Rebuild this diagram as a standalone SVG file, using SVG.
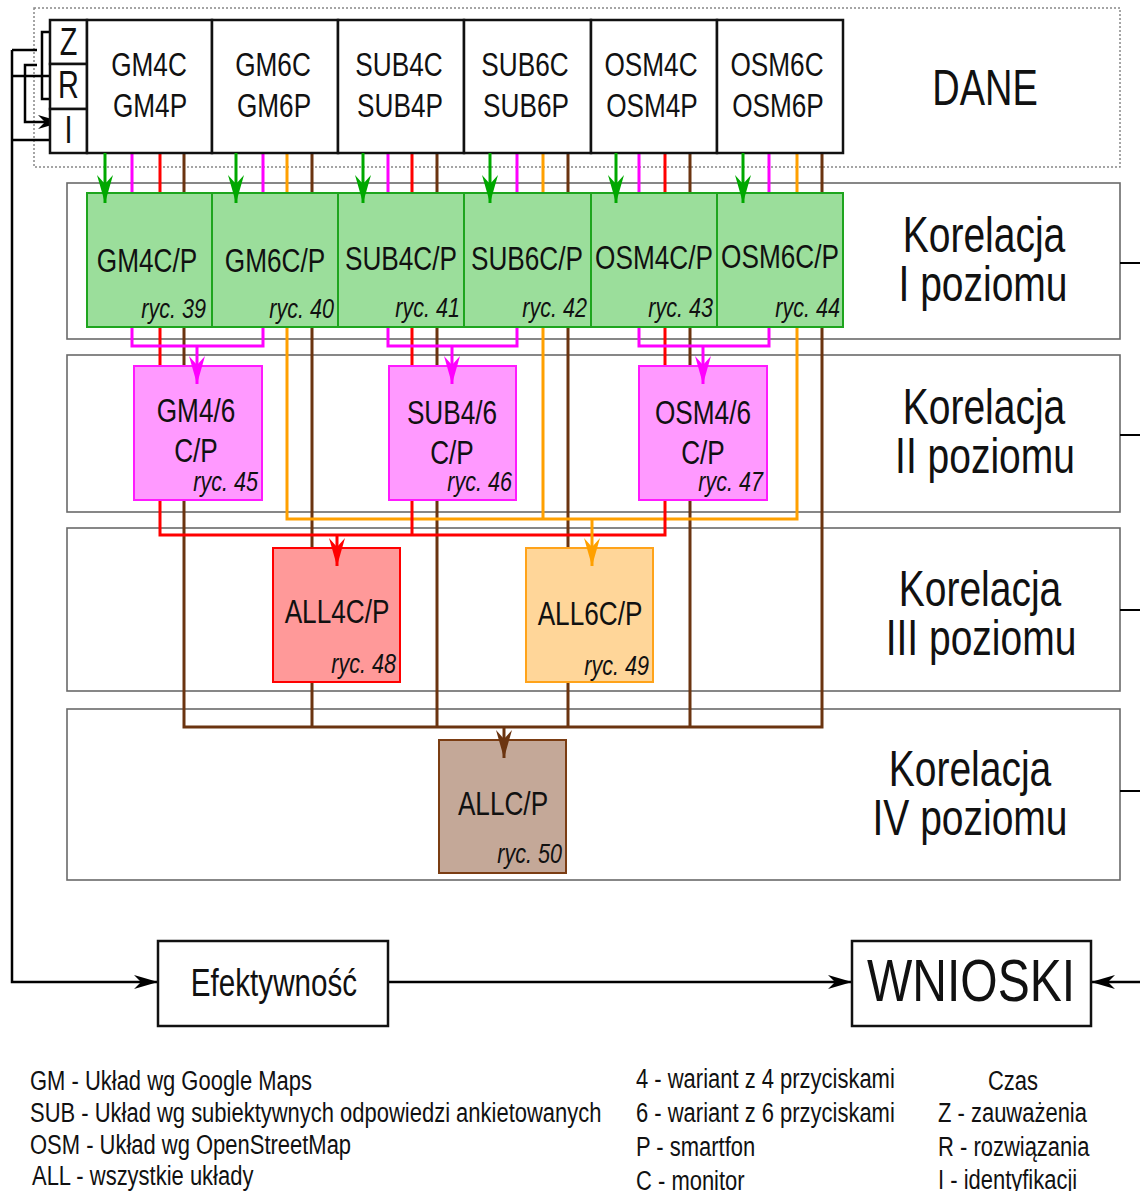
<svg xmlns="http://www.w3.org/2000/svg" width="1140" height="1191" viewBox="0 0 1140 1191">
<defs>
<style>
text{font-family:"Liberation Sans",Arial,sans-serif;fill:#111}
.n{font-size:34px;text-anchor:middle}
.r{font-size:28px;font-style:italic;text-anchor:end}
.l{font-size:50px;text-anchor:middle}
.g{font-size:28px}
.lvl{fill:#fff;stroke:#6a6a6a;stroke-width:1.6}
.cell{fill:#fff;stroke:#111;stroke-width:2.5}
.gr{fill:#9bde9b;stroke:#1ea51e;stroke-width:2}
.mg{fill:#ff99ff;stroke:#ff1aff;stroke-width:2}
.rd{fill:#ff9999;stroke:#ff0000;stroke-width:2}
.or{fill:#ffd699;stroke:#ffa31a;stroke-width:2}
.br{fill:#c4a898;stroke:#7b3d13;stroke-width:2}
.c{fill:none;stroke-width:3}
.cg{stroke:#00a800}.cm{stroke:#ff00ff}.cr{stroke:#ff0000}.co{stroke:#ffa000}.cb{stroke:#6b3410}
.k{fill:none;stroke:#000;stroke-width:2.5}
</style>
<marker id="ag" markerUnits="userSpaceOnUse" markerWidth="30" markerHeight="18" refX="28" refY="9" orient="auto" overflow="visible"><path d="M0,1 L28,9 L0,17 L9,9 z" fill="#00a800"/></marker>
<marker id="am" markerUnits="userSpaceOnUse" markerWidth="30" markerHeight="18" refX="28" refY="9" orient="auto" overflow="visible"><path d="M0,1 L28,9 L0,17 L9,9 z" fill="#ff00ff"/></marker>
<marker id="ar" markerUnits="userSpaceOnUse" markerWidth="30" markerHeight="18" refX="28" refY="9" orient="auto" overflow="visible"><path d="M0,1 L28,9 L0,17 L9,9 z" fill="#ff0000"/></marker>
<marker id="ao" markerUnits="userSpaceOnUse" markerWidth="30" markerHeight="18" refX="28" refY="9" orient="auto" overflow="visible"><path d="M0,1 L28,9 L0,17 L9,9 z" fill="#ffa000"/></marker>
<marker id="ab" markerUnits="userSpaceOnUse" markerWidth="30" markerHeight="18" refX="28" refY="9" orient="auto" overflow="visible"><path d="M0,1 L28,9 L0,17 L9,9 z" fill="#6b3410"/></marker>
<marker id="ak" markerUnits="userSpaceOnUse" markerWidth="26" markerHeight="16" refX="24" refY="8" orient="auto" overflow="visible"><path d="M0,1 L24,8 L0,15 L7,8 z" fill="#000"/></marker>
</defs>

<g id="frames">
<rect x="34" y="8" width="1086" height="159" fill="none" stroke="#888" stroke-width="1.5" stroke-dasharray="2 2"/>
<rect class="lvl" x="67" y="183" width="1053" height="156"/>
<rect class="lvl" x="67" y="355" width="1053" height="157"/>
<rect class="lvl" x="67" y="528" width="1053" height="163"/>
<rect class="lvl" x="67" y="709" width="1053" height="171"/>
</g>

<g id="connectors">
<g class="c cb">
<path d="M184 153V727H822V153"/>
<path d="M312 153V727"/><path d="M437 153V727"/><path d="M568 153V727"/><path d="M690 153V727"/>
</g>
<g class="c co">
<path d="M287 153V519H797V153"/>
<path d="M543 153V519"/>
</g>
<g class="c cr">
<path d="M160 153V535H665V153"/>
<path d="M412 153V535"/>
</g>
<g class="c cm">
<path d="M132 153V346H263V153"/>
<path d="M388 153V346H517V153"/>
<path d="M639 153V346H769V153"/>
</g>
<g class="k">
<path d="M50 32H42V99H50"/>
<path d="M12 50H37"/>
<path d="M12 76H50"/>
<path d="M12 140H50"/>
<path d="M37 65H25V122H62" marker-end="url(#ak)"/>
<path d="M12 50V982H158" marker-end="url(#ak)"/>
<path d="M388 982H852" marker-end="url(#ak)"/>
<path d="M1140 982H1091" marker-end="url(#ak)"/>
<path d="M1120 263H1140M1120 435H1140M1120 610H1140M1120 791H1140" stroke-width="2"/>
</g>
</g>

<g id="dane">
<rect class="cell" x="50" y="20" width="37" height="44"/>
<rect class="cell" x="50" y="64" width="37" height="45"/>
<rect class="cell" x="50" y="109" width="37" height="44"/>
<text transform="translate(68.5 55) scale(.76 1)" style="font-size:38px;text-anchor:middle">Z</text>
<text transform="translate(68.5 98) scale(.76 1)" style="font-size:38px;text-anchor:middle">R</text>
<text transform="translate(68.5 143) scale(.76 1)" style="font-size:38px;text-anchor:middle">I</text>
<text transform="translate(985 105) scale(.76 1)" class="l">DANE</text>
</g>
<g id="d-gm4"><rect class="cell" x="87" y="20" width="125" height="133"/><text class="n" transform="translate(149 76) scale(.77 1)">GM4C</text><text class="n" transform="translate(150 117) scale(.77 1)">GM4P</text></g>
<g id="d-gm6"><rect class="cell" x="212" y="20" width="126" height="133"/><text class="n" transform="translate(273 76) scale(.77 1)">GM6C</text><text class="n" transform="translate(274 117) scale(.77 1)">GM6P</text></g>
<g id="d-sub4"><rect class="cell" x="338" y="20" width="126" height="133"/><text class="n" transform="translate(399 76) scale(.77 1)">SUB4C</text><text class="n" transform="translate(400 117) scale(.77 1)">SUB4P</text></g>
<g id="d-sub6"><rect class="cell" x="464" y="20" width="127" height="133"/><text class="n" transform="translate(525 76) scale(.77 1)">SUB6C</text><text class="n" transform="translate(526 117) scale(.77 1)">SUB6P</text></g>
<g id="d-osm4"><rect class="cell" x="591" y="20" width="126" height="133"/><text class="n" transform="translate(651 76) scale(.77 1)">OSM4C</text><text class="n" transform="translate(652 117) scale(.77 1)">OSM4P</text></g>
<g id="d-osm6"><rect class="cell" x="717" y="20" width="126" height="133"/><text class="n" transform="translate(777 76) scale(.77 1)">OSM6C</text><text class="n" transform="translate(778 117) scale(.77 1)">OSM6P</text></g>

<g id="n39"><rect class="gr" x="87" y="193" width="125" height="134"/><text class="n" transform="translate(147 272) scale(.77 1)">GM4C/P</text><text class="r" transform="translate(206 318) scale(.77 1)">ryc. 39</text></g>
<g id="n40"><rect class="gr" x="212" y="193" width="126" height="134"/><text class="n" transform="translate(275 272) scale(.77 1)">GM6C/P</text><text class="r" transform="translate(334 318) scale(.77 1)">ryc. 40</text></g>
<g id="n41"><rect class="gr" x="338" y="193" width="126" height="134"/><text class="n" transform="translate(401 270) scale(.77 1)">SUB4C/P</text><text class="r" transform="translate(460 317) scale(.77 1)">ryc. 41</text></g>
<g id="n42"><rect class="gr" x="464" y="193" width="127" height="134"/><text class="n" transform="translate(527 270) scale(.77 1)">SUB6C/P</text><text class="r" transform="translate(587 317) scale(.77 1)">ryc. 42</text></g>
<g id="n43"><rect class="gr" x="591" y="193" width="126" height="134"/><text class="n" transform="translate(654 269) scale(.77 1)">OSM4C/P</text><text class="r" transform="translate(713 317) scale(.77 1)">ryc. 43</text></g>
<g id="n44"><rect class="gr" x="717" y="193" width="126" height="134"/><text class="n" transform="translate(780 268) scale(.77 1)">OSM6C/P</text><text class="r" transform="translate(840 317) scale(.77 1)">ryc. 44</text></g>

<g id="n45"><rect class="mg" x="134" y="366" width="128" height="134"/><text class="n" transform="translate(196 422) scale(.77 1)">GM4/6</text><text class="n" transform="translate(196 462) scale(.77 1)">C/P</text><text class="r" transform="translate(258 491) scale(.77 1)">ryc. 45</text></g>
<g id="n46"><rect class="mg" x="389" y="366" width="127" height="134"/><text class="n" transform="translate(452 424) scale(.77 1)">SUB4/6</text><text class="n" transform="translate(452 464) scale(.77 1)">C/P</text><text class="r" transform="translate(512 491) scale(.77 1)">ryc. 46</text></g>
<g id="n47"><rect class="mg" x="639" y="366" width="128" height="134"/><text class="n" transform="translate(703 424) scale(.77 1)">OSM4/6</text><text class="n" transform="translate(703 464) scale(.77 1)">C/P</text><text class="r" transform="translate(763 491) scale(.77 1)">ryc. 47</text></g>

<g id="n48"><rect class="rd" x="273" y="548" width="127" height="134"/><text class="n" transform="translate(337 623) scale(.77 1)">ALL4C/P</text><text class="r" transform="translate(396 673) scale(.77 1)">ryc. 48</text></g>
<g id="n49"><rect class="or" x="526" y="548" width="127" height="134"/><text class="n" transform="translate(590 625) scale(.77 1)">ALL6C/P</text><text class="r" transform="translate(649 675) scale(.77 1)">ryc. 49</text></g>
<g id="n50"><rect class="br" x="439" y="740" width="127" height="133"/><text class="n" transform="translate(503 815) scale(.77 1)">ALLC/P</text><text class="r" transform="translate(562 863) scale(.77 1)">ryc. 50</text></g>

<g id="connector-arrows">
<g class="c cg">
<path d="M105 153V203" marker-end="url(#ag)"/>
<path d="M236 153V203" marker-end="url(#ag)"/>
<path d="M363 153V203" marker-end="url(#ag)"/>
<path d="M490 153V203" marker-end="url(#ag)"/>
<path d="M616 153V203" marker-end="url(#ag)"/>
<path d="M743 153V203" marker-end="url(#ag)"/>
</g>
<path class="c cm" d="M197 346V384" marker-end="url(#am)"/>
<path class="c cm" d="M452 346V384" marker-end="url(#am)"/>
<path class="c cm" d="M703 346V384" marker-end="url(#am)"/>
<path class="c cr" d="M337 535V566" marker-end="url(#ar)"/>
<path class="c co" d="M592 519V566" marker-end="url(#ao)"/>
<path class="c cb" d="M504 727V758" marker-end="url(#ab)"/>
</g>

<g id="levels">
<text class="l" transform="translate(984 252) scale(.78 1)">Korelacja</text>
<text class="l" transform="translate(983 301) scale(.78 1)">I poziomu</text>
<text class="l" transform="translate(984 424) scale(.78 1)">Korelacja</text>
<text class="l" transform="translate(985 473) scale(.78 1)">II poziomu</text>
<text class="l" transform="translate(980 606) scale(.78 1)">Korelacja</text>
<text class="l" transform="translate(981 655) scale(.78 1)">III poziomu</text>
<text class="l" transform="translate(970 786) scale(.78 1)">Korelacja</text>
<text class="l" transform="translate(970 835) scale(.78 1)">IV poziomu</text>
</g>

<g id="efektywnosc"><rect class="cell" x="158" y="941" width="230" height="85" stroke-width="2"/><text transform="translate(274 996) scale(.76 1)" style="font-size:39px;text-anchor:middle">Efektywność</text></g>
<g id="wnioski"><rect class="cell" x="852" y="941" width="239" height="85" stroke-width="2"/><text transform="translate(971 1001) scale(.8 1)" style="font-size:60px;text-anchor:middle">WNIOSKI</text></g>

<g id="legend">
<text class="g" transform="translate(30 1090) scale(.785 1)">GM - Układ wg Google Maps</text>
<text class="g" transform="translate(30 1122) scale(.785 1)">SUB - Układ wg subiektywnych odpowiedzi ankietowanych</text>
<text class="g" transform="translate(30 1154) scale(.785 1)">OSM - Układ wg OpenStreetMap</text>
<text class="g" transform="translate(32 1185) scale(.785 1)">ALL - wszystkie układy</text>
<text class="g" transform="translate(636 1088) scale(.785 1)">4 - wariant z 4 przyciskami</text>
<text class="g" transform="translate(636 1122) scale(.785 1)">6 - wariant z 6 przyciskami</text>
<text class="g" transform="translate(636 1156) scale(.785 1)">P - smartfon</text>
<text class="g" transform="translate(636 1190) scale(.785 1)">C - monitor</text>
<text class="g" transform="translate(988 1090) scale(.785 1)">Czas</text>
<text class="g" transform="translate(938 1122) scale(.785 1)">Z - zauważenia</text>
<text class="g" transform="translate(938 1156) scale(.785 1)">R - rozwiązania</text>
<text class="g" transform="translate(938 1189) scale(.785 1)">I - identyfikacji</text>
</g>
</svg>
